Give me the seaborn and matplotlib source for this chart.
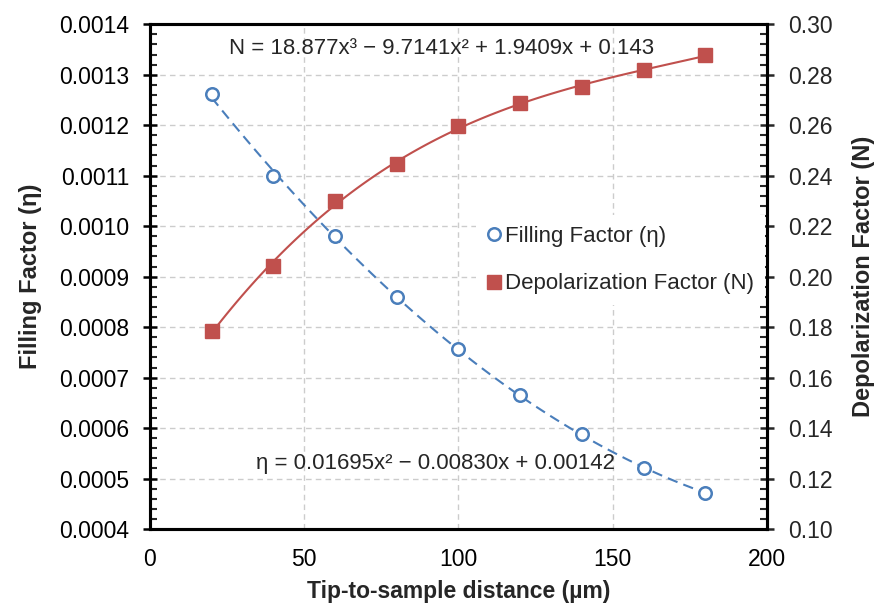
import numpy as np
import pandas as pd
import matplotlib
matplotlib.use('Agg')
import matplotlib.pyplot as plt
import seaborn as sns
from matplotlib.ticker import MultipleLocator, FormatStrFormatter
from matplotlib.lines import Line2D

# data
distance = [20, 40, 60, 80, 100, 120, 140, 160, 180]
filling = [0.001261, 0.001099, 0.000980, 0.000859, 0.000756, 0.000665, 0.000588, 0.000521, 0.000471]
depol = [0.1784, 0.2042, 0.2299, 0.2446, 0.2596, 0.2687, 0.2752, 0.2818, 0.2877]

eq_N = 'N = 18.877x³ − 9.7141x² + 1.9409x + 0.143'
eq_eta = 'η = 0.01695x² − 0.00830x + 0.00142'

df = pd.DataFrame({'distance': distance, 'filling': filling, 'depol': depol})

blue = '#4a7ebb'
red = '#c0504d'

sns.set_style('white')
plt.rcParams['font.family'] = ['Liberation Sans', 'DejaVu Sans']

fig = plt.figure(figsize=(8.78, 6.06), dpi=100)
ax = fig.add_axes([0.1708, 0.127, 0.7028, 0.833])
ax2 = ax.twinx()

# filling factor: open circles + dashed quadratic fit
sns.regplot(data=df, x='distance', y='filling', order=2, ci=None, scatter=False,
            ax=ax, line_kws=dict(color=blue, lw=1.5, ls=(0, (5, 3))))
ax.plot(df['distance'], df['filling'], ls='none', marker='o', ms=9,
        mfc='white', mec=blue, mew=1.8, zorder=5)

# depolarization factor: squares + cubic fit
sns.regplot(data=df, x='distance', y='depol', order=3, ci=None, scatter=False,
            ax=ax2, line_kws=dict(color=red, lw=1.5))
ax2.plot(df['distance'], df['depol'], ls='none', marker='s', ms=10,
         mfc=red, mec=red, zorder=5)

ax.set_xlim(0, 200)
ax.set_ylim(0.0004, 0.0014)
ax2.set_ylim(0.10, 0.30)

ax.xaxis.set_major_locator(MultipleLocator(50))
ax.xaxis.set_minor_locator(MultipleLocator(10))
ax.yaxis.set_major_locator(MultipleLocator(0.0001))
ax.yaxis.set_minor_locator(MultipleLocator(0.00002))
ax.yaxis.set_major_formatter(FormatStrFormatter('%.4f'))
ax2.yaxis.set_major_locator(MultipleLocator(0.02))
ax2.yaxis.set_minor_locator(MultipleLocator(0.004))
ax2.yaxis.set_major_formatter(FormatStrFormatter('%.2f'))

ax.grid(True, which='major', color='#cccccc', ls=(0, (4, 3)), lw=1)
ax.set_axisbelow(True)

for a in (ax, ax2):
    for s in a.spines.values():
        s.set_linewidth(2.2)
        s.set_color('black')
ax.tick_params(which='major', direction='inout', length=10, width=1.8, labelsize=16.5, colors='black')
ax.tick_params(which='minor', direction='in', length=5, width=1.5)
ax.tick_params(axis='x', which='minor', top=False)
ax.tick_params(axis='y', which='both', right=False)
ax.tick_params(axis='x', pad=9)
ax.tick_params(axis='y', pad=10)
ax2.tick_params(which='major', direction='inout', length=10, width=1.8, labelsize=16.5, pad=10)
ax2.tick_params(which='minor', direction='in', length=5, width=1.5)

ax.set_xlabel('Tip-to-sample distance (µm)', fontsize=16.5, fontweight='bold', labelpad=6)
ax.set_ylabel('Filling Factor (η)', fontsize=17, fontweight='bold', labelpad=12)
ax2.set_ylabel('Depolarization Factor (N)', fontsize=17, fontweight='bold', labelpad=14)

ax.text(0.473, 0.952, eq_N, transform=ax.transAxes, ha='center', va='center', fontsize=16)
ax.text(0.463, 0.13, eq_eta, transform=ax.transAxes, ha='center', va='center', fontsize=16)

handles = [
    Line2D([], [], ls='none', marker='o', ms=9, mfc='white', mec=blue, mew=1.8),
    Line2D([], [], ls='none', marker='s', ms=10, mfc=red, mec=red),
]
leg = ax2.legend(handles, ['Filling Factor (η)', 'Depolarization Factor (N)'],
                 loc='upper left', bbox_to_anchor=(0.51, 0.645), frameon=True,
                 fontsize=16, handlelength=0.6, handletextpad=0.2, labelspacing=1.2,
                 borderpad=0.5, fancybox=False)
leg.get_frame().set_facecolor('white')
leg.get_frame().set_edgecolor('none')
leg.get_frame().set_alpha(1)

fig.savefig('out.png', dpi=100)
